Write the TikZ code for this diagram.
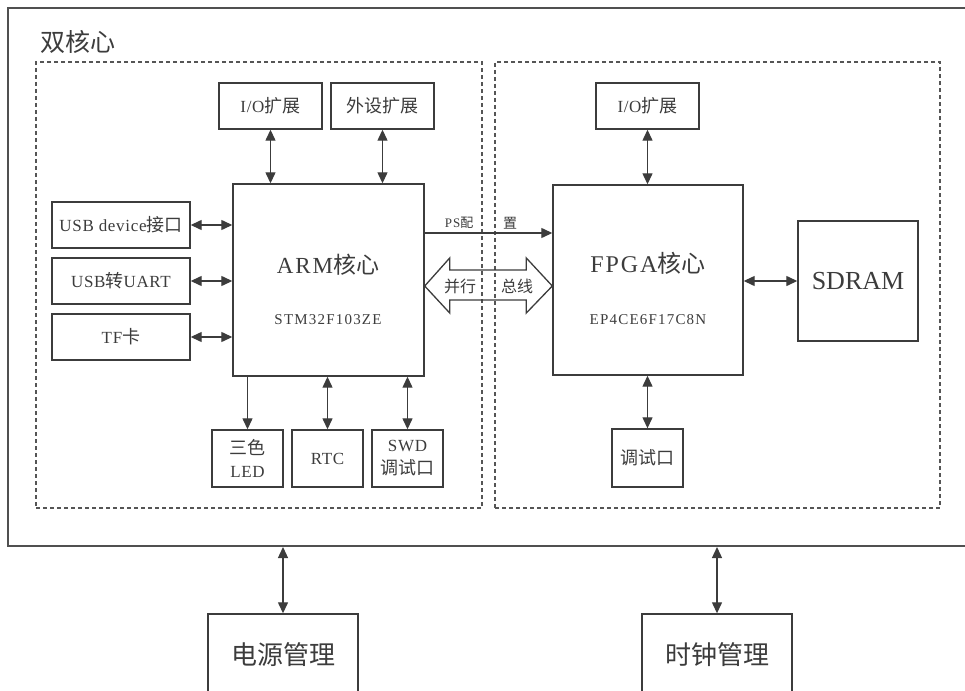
\documentclass[tikz,border=0pt]{standalone}
\usepackage{fontspec}
\setmainfont{Liberation Serif}[LetterSpace=8]
\newfontfamily\boxlat{Liberation Serif}[LetterSpace=4]
\newfontfamily\cjk{Noto Sans CJK SC}
\newcommand{\ck}[1]{{\cjk\fontsize{18}{22}\selectfont #1}}
\usetikzlibrary{arrows.meta,calc}
\definecolor{ln}{HTML}{3C3C3C}
\definecolor{dl}{HTML}{555555}
\tikzset{
  box/.style={draw=ln, line width=1.4pt, rectangle, inner sep=0pt, align=center, text=ln,
    font=\boxlat\fontsize{17}{23}\selectfont},
  dashbox/.style={draw=dl, line width=1.1pt, dash pattern=on 4pt off 3pt, rectangle, inner sep=0pt},
  conn/.style={draw=ln, line width=1.3pt, {Triangle[length=11pt,width=10pt]}-{Triangle[length=11pt,width=10pt]}},
  oneway/.style={draw=ln, line width=1.3pt, -{Triangle[length=11pt,width=10pt]}},
  lbl/.style={inner sep=0pt, text=ln}
}
\begin{document}
\begin{tikzpicture}[x=1pt,y=-1pt]
\useasboundingbox (0,0) rectangle (965,690);
% outer box
\node[draw=ln!90, line width=2pt, minimum width=967pt, minimum height=538pt, inner sep=0pt] (outer) at (491.5,277) {};
\node[lbl, anchor=west, font=\cjk\fontsize{25}{28}\selectfont] (title) at (40,42) {双核心};
% dashed zones
\node[dashbox, minimum width=446pt, minimum height=446pt] (armzone) at (259,285) {};
\node[dashbox, minimum width=445pt, minimum height=446pt] (fpgazone) at (717.5,285) {};
% ARM side
\node[box, minimum width=191pt, minimum height=192pt] (arm) at (328.5,280) {};
\node[lbl, font=\fontsize{23}{26}\selectfont] (armt) at (328,265) {ARM{\cjk 核心}};
\node[lbl, font=\fontsize{15}{18}\selectfont] (armm) at (328,320) {STM32F103ZE};
\node[box, minimum width=103pt, minimum height=46pt] (io1) at (270.5,106) {I/O\ck{扩展}};
\node[box, minimum width=103pt, minimum height=46pt] (perip) at (382.5,106) {\ck{外设扩展}};
\node[box, minimum width=138pt, minimum height=46pt] (usbdev) at (121,225) {USB device\ck{接口}};
\node[box, minimum width=138pt, minimum height=46pt] (usbuart) at (121,281) {USB\ck{转}UART};
\node[box, minimum width=138pt, minimum height=46pt] (tf) at (121,337) {TF\ck{卡}};
\node[box, minimum width=71pt, minimum height=57pt] (led) at (247.5,458.5) {\ck{三色}\\LED};
\node[box, minimum width=71pt, minimum height=57pt] (rtc) at (327.5,458.5) {RTC};
\node[box, minimum width=71pt, minimum height=57pt] (swd) at (407.5,458.5) {SWD\\\ck{调试口}};
% FPGA side
\node[box, minimum width=190pt, minimum height=190pt] (fpga) at (648,280) {};
\node[lbl, font=\fontsize{24}{27}\selectfont] (fpgat) at (648,263) {FPGA{\cjk 核心}};
\node[lbl, font=\fontsize{15}{18}\selectfont] (fpgam) at (648,320) {EP4CE6F17C8N};
\node[box, minimum width=103pt, minimum height=46pt] (io2) at (647.5,106) {I/O\ck{扩展}};
\node[box, minimum width=71pt, minimum height=58pt] (debug) at (647.5,458) {\ck{调试口}};
\node[box, minimum width=120pt, minimum height=120pt, font=\addfontfeature{LetterSpace=0}\fontsize{26}{30}\selectfont] (sdram) at (858,281) {SDRAM};
% bottom
\node[box, minimum width=150pt, minimum height=82pt, font=\cjk\fontsize{26}{28}\selectfont] (power) at (283,655) {电源管理};
\node[box, minimum width=150pt, minimum height=82pt, font=\cjk\fontsize{26}{28}\selectfont] (clock) at (717,655) {时钟管理};
% connectors
\draw[conn] (io1.south) -- (io1.south |- arm.north);
\draw[conn] (perip.south) -- (perip.south |- arm.north);
\draw[conn] (usbdev.east) -- (usbdev.east -| arm.west);
\draw[conn] (usbuart.east) -- (usbuart.east -| arm.west);
\draw[conn] (tf.east) -- (tf.east -| arm.west);
\draw[oneway] (led.north |- arm.south) -- (led.north);
\draw[conn] (rtc.north |- arm.south) -- (rtc.north);
\draw[conn] (swd.north |- arm.south) -- (swd.north);
\draw[conn] (io2.south) -- (io2.south |- fpga.north);
\draw[conn] (debug.north |- fpga.south) -- (debug.north);
\draw[conn] (sdram.west -| fpga.east) -- (sdram.west);
\draw[conn] (power.north) -- (power.north |- outer.south);
\draw[conn] (clock.north) -- (clock.north |- outer.south);
% PS config
\coordinate (psL) at (arm.east |- 0,233);
\coordinate (psR) at (fpga.west |- 0,233);
\draw[oneway] (psL) -- (psR);
\node[lbl, font=\fontsize{13}{15}\selectfont] (ps1) at (459,223) {PS{\cjk 配}};
\node[lbl, font=\cjk\fontsize{14}{15}\selectfont] (ps2) at (510,223) {置};
% parallel bus
\coordinate (bL) at (arm.east |- 0,286);
\coordinate (bR) at (fpga.west |- 0,286);
\draw[ln, line width=1.3pt, line join=miter]
  (bL) -- ($(bL)+(25,-28)$) -- ($(bL)+(25,-16)$) -- ($(bR)+(-26,-16)$) -- ($(bR)+(-26,-28)$)
  -- (bR) -- ($(bR)+(-26,27)$) -- ($(bR)+(-26,14)$) -- ($(bL)+(25,14)$) -- ($(bL)+(25,27)$) -- cycle;
\node[lbl, font=\cjk\fontsize{16}{17}\selectfont] (bus1) at (460,286) {并行};
\node[lbl, font=\cjk\fontsize{16}{17}\selectfont] (bus2) at (517,286) {总线};
\end{tikzpicture}
\end{document}
